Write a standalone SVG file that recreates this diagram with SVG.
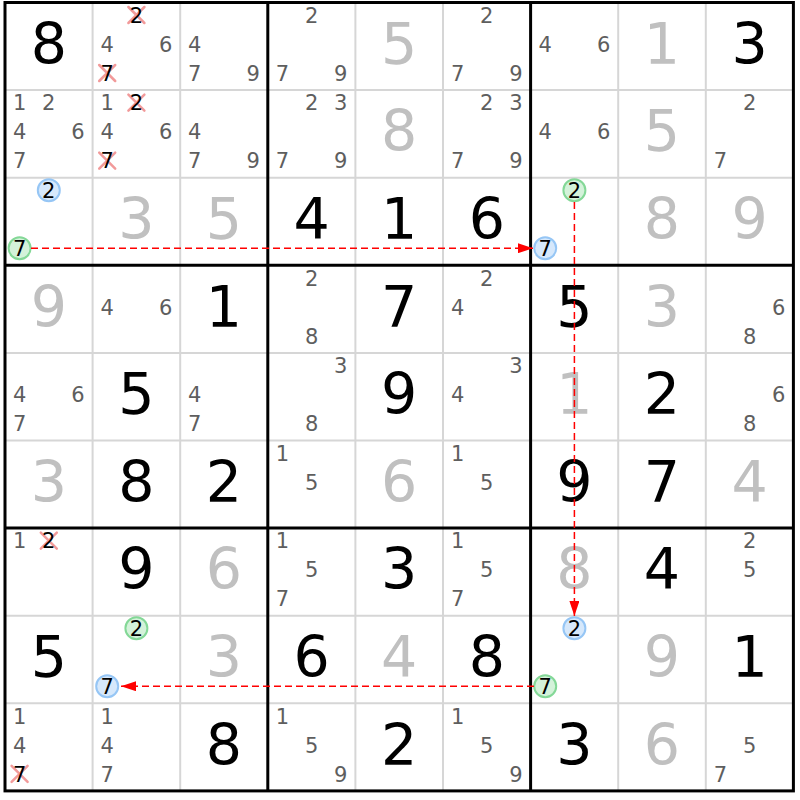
<svg xmlns="http://www.w3.org/2000/svg" width="800" height="800" viewBox="0 0 800 800">
<defs>
<style>
text{font-family:"DejaVu Sans",Verdana,sans-serif;text-anchor:middle}
.g{font-size:57px;fill:#000}
.s{font-size:57px;fill:#c0c0c0}
.c{font-size:21px;fill:#5e5e5e}
.k{font-size:21px;fill:#000}
.x{stroke:#f29a9a;stroke-width:2.5;stroke-linecap:round}
.cb{fill:#d6e8fb;stroke:#96c6f5;stroke-width:2}
.cg{fill:#d4f2da;stroke:#84d897;stroke-width:2}
.thin{stroke:#d6d6d6;stroke-width:2}
.thick{stroke:#000;stroke-width:3;fill:none}
.arr{stroke:#f00;stroke-width:1.5;stroke-dasharray:7 4;fill:none;marker-end:url(#ah)}
</style>
<marker id="ah" markerUnits="userSpaceOnUse" viewBox="0 0 15 10" markerWidth="15" markerHeight="10" refX="15" refY="5" orient="auto">
<path d="M0,0 L15,5 L0,10 z" fill="#f00"/>
</marker>
</defs>
<rect width="800" height="800" fill="#fff"/>
<g id="grid">
<g class="thin">
<line x1="92.6" y1="2.5" x2="92.6" y2="790.9"/>
<line x1="180.2" y1="2.5" x2="180.2" y2="790.9"/>
<line x1="355.4" y1="2.5" x2="355.4" y2="790.9"/>
<line x1="443" y1="2.5" x2="443" y2="790.9"/>
<line x1="618.2" y1="2.5" x2="618.2" y2="790.9"/>
<line x1="705.8" y1="2.5" x2="705.8" y2="790.9"/>
<line x1="5" y1="90.1" x2="793.4" y2="90.1"/>
<line x1="5" y1="177.7" x2="793.4" y2="177.7"/>
<line x1="5" y1="352.9" x2="793.4" y2="352.9"/>
<line x1="5" y1="440.5" x2="793.4" y2="440.5"/>
<line x1="5" y1="615.7" x2="793.4" y2="615.7"/>
<line x1="5" y1="703.3" x2="793.4" y2="703.3"/>
</g>
<g class="thick">
<rect x="5" y="2.5" width="788.4" height="788.4"/>
<line x1="267.8" y1="2.5" x2="267.8" y2="790.9"/>
<line x1="530.6" y1="2.5" x2="530.6" y2="790.9"/>
<line x1="5" y1="265.3" x2="793.4" y2="265.3"/>
<line x1="5" y1="528.1" x2="793.4" y2="528.1"/>
</g>
</g>

<!-- Row 1 -->
<g id="r1c1" transform="translate(5,2.5)"><text class="g" x="43.8" y="61.3">8</text></g>
<g id="r1c2" transform="translate(92.6,2.5)">
<path class="x" d="M35.8,4.5 L51.8,20.5 M51.8,4.5 L35.8,20.5 M6.6,62.5 L22.6,78.5 M22.6,62.5 L6.6,78.5"/>
<text class="k" x="43.8" y="20.3">2</text><text class="c" x="14.6" y="49.3">4</text><text class="c" x="73" y="49.3">6</text><text class="k" x="14.6" y="78.3">7</text></g>
<g id="r1c3" transform="translate(180.2,2.5)"><text class="c" x="14.6" y="49.3">4</text><text class="c" x="14.6" y="78.3">7</text><text class="c" x="73" y="78.3">9</text></g>
<g id="r1c4" transform="translate(267.8,2.5)"><text class="c" x="43.8" y="20.3">2</text><text class="c" x="14.6" y="78.3">7</text><text class="c" x="73" y="78.3">9</text></g>
<g id="r1c5" transform="translate(355.4,2.5)"><text class="s" x="43.8" y="61.3">5</text></g>
<g id="r1c6" transform="translate(443,2.5)"><text class="c" x="43.8" y="20.3">2</text><text class="c" x="14.6" y="78.3">7</text><text class="c" x="73" y="78.3">9</text></g>
<g id="r1c7" transform="translate(530.6,2.5)"><text class="c" x="14.6" y="49.3">4</text><text class="c" x="73" y="49.3">6</text></g>
<g id="r1c8" transform="translate(618.2,2.5)"><text class="s" x="43.8" y="61.3">1</text></g>
<g id="r1c9" transform="translate(705.8,2.5)"><text class="g" x="43.8" y="61.3">3</text></g>

<!-- Row 2 -->
<g id="r2c1" transform="translate(5,90.1)"><text class="c" x="14.6" y="20.3">1</text><text class="c" x="43.8" y="20.3">2</text><text class="c" x="14.6" y="49.3">4</text><text class="c" x="73" y="49.3">6</text><text class="c" x="14.6" y="78.3">7</text></g>
<g id="r2c2" transform="translate(92.6,90.1)">
<path class="x" d="M35.8,4.5 L51.8,20.5 M51.8,4.5 L35.8,20.5 M6.6,62.5 L22.6,78.5 M22.6,62.5 L6.6,78.5"/>
<text class="c" x="14.6" y="20.3">1</text><text class="k" x="43.8" y="20.3">2</text><text class="c" x="14.6" y="49.3">4</text><text class="c" x="73" y="49.3">6</text><text class="k" x="14.6" y="78.3">7</text></g>
<g id="r2c3" transform="translate(180.2,90.1)"><text class="c" x="14.6" y="49.3">4</text><text class="c" x="14.6" y="78.3">7</text><text class="c" x="73" y="78.3">9</text></g>
<g id="r2c4" transform="translate(267.8,90.1)"><text class="c" x="43.8" y="20.3">2</text><text class="c" x="73" y="20.3">3</text><text class="c" x="14.6" y="78.3">7</text><text class="c" x="73" y="78.3">9</text></g>
<g id="r2c5" transform="translate(355.4,90.1)"><text class="s" x="43.8" y="61.3">8</text></g>
<g id="r2c6" transform="translate(443,90.1)"><text class="c" x="43.8" y="20.3">2</text><text class="c" x="73" y="20.3">3</text><text class="c" x="14.6" y="78.3">7</text><text class="c" x="73" y="78.3">9</text></g>
<g id="r2c7" transform="translate(530.6,90.1)"><text class="c" x="14.6" y="49.3">4</text><text class="c" x="73" y="49.3">6</text></g>
<g id="r2c8" transform="translate(618.2,90.1)"><text class="s" x="43.8" y="61.3">5</text></g>
<g id="r2c9" transform="translate(705.8,90.1)"><text class="c" x="43.8" y="20.3">2</text><text class="c" x="14.6" y="78.3">7</text></g>

<!-- Row 3 -->
<g id="r3c1" transform="translate(5,177.7)"><circle class="cb" cx="43.8" cy="12.5" r="11"/><text class="k" x="43.8" y="20.3">2</text><circle class="cg" cx="14.6" cy="70.5" r="11"/><text class="k" x="14.6" y="78.3">7</text></g>
<g id="r3c2" transform="translate(92.6,177.7)"><text class="s" x="43.8" y="61.3">3</text></g>
<g id="r3c3" transform="translate(180.2,177.7)"><text class="s" x="43.8" y="61.3">5</text></g>
<g id="r3c4" transform="translate(267.8,177.7)"><text class="g" x="43.8" y="61.3">4</text></g>
<g id="r3c5" transform="translate(355.4,177.7)"><text class="g" x="43.8" y="61.3">1</text></g>
<g id="r3c6" transform="translate(443,177.7)"><text class="g" x="43.8" y="61.3">6</text></g>
<g id="r3c7" transform="translate(530.6,177.7)"><circle class="cg" cx="43.8" cy="12.5" r="11"/><text class="k" x="43.8" y="20.3">2</text><circle class="cb" cx="14.6" cy="70.5" r="11"/><text class="k" x="14.6" y="78.3">7</text></g>
<g id="r3c8" transform="translate(618.2,177.7)"><text class="s" x="43.8" y="61.3">8</text></g>
<g id="r3c9" transform="translate(705.8,177.7)"><text class="s" x="43.8" y="61.3">9</text></g>

<!-- Row 4 -->
<g id="r4c1" transform="translate(5,265.3)"><text class="s" x="43.8" y="61.3">9</text></g>
<g id="r4c2" transform="translate(92.6,265.3)"><text class="c" x="14.6" y="49.3">4</text><text class="c" x="73" y="49.3">6</text></g>
<g id="r4c3" transform="translate(180.2,265.3)"><text class="g" x="43.8" y="61.3">1</text></g>
<g id="r4c4" transform="translate(267.8,265.3)"><text class="c" x="43.8" y="20.3">2</text><text class="c" x="43.8" y="78.3">8</text></g>
<g id="r4c5" transform="translate(355.4,265.3)"><text class="g" x="43.8" y="61.3">7</text></g>
<g id="r4c6" transform="translate(443,265.3)"><text class="c" x="43.8" y="20.3">2</text><text class="c" x="14.6" y="49.3">4</text></g>
<g id="r4c7" transform="translate(530.6,265.3)"><text class="g" x="43.8" y="61.3">5</text></g>
<g id="r4c8" transform="translate(618.2,265.3)"><text class="s" x="43.8" y="61.3">3</text></g>
<g id="r4c9" transform="translate(705.8,265.3)"><text class="c" x="73" y="49.3">6</text><text class="c" x="43.8" y="78.3">8</text></g>

<!-- Row 5 -->
<g id="r5c1" transform="translate(5,352.9)"><text class="c" x="14.6" y="49.3">4</text><text class="c" x="73" y="49.3">6</text><text class="c" x="14.6" y="78.3">7</text></g>
<g id="r5c2" transform="translate(92.6,352.9)"><text class="g" x="43.8" y="61.3">5</text></g>
<g id="r5c3" transform="translate(180.2,352.9)"><text class="c" x="14.6" y="49.3">4</text><text class="c" x="14.6" y="78.3">7</text></g>
<g id="r5c4" transform="translate(267.8,352.9)"><text class="c" x="73" y="20.3">3</text><text class="c" x="43.8" y="78.3">8</text></g>
<g id="r5c5" transform="translate(355.4,352.9)"><text class="g" x="43.8" y="61.3">9</text></g>
<g id="r5c6" transform="translate(443,352.9)"><text class="c" x="73" y="20.3">3</text><text class="c" x="14.6" y="49.3">4</text></g>
<g id="r5c7" transform="translate(530.6,352.9)"><text class="s" x="43.8" y="61.3">1</text></g>
<g id="r5c8" transform="translate(618.2,352.9)"><text class="g" x="43.8" y="61.3">2</text></g>
<g id="r5c9" transform="translate(705.8,352.9)"><text class="c" x="73" y="49.3">6</text><text class="c" x="43.8" y="78.3">8</text></g>

<!-- Row 6 -->
<g id="r6c1" transform="translate(5,440.5)"><text class="s" x="43.8" y="61.3">3</text></g>
<g id="r6c2" transform="translate(92.6,440.5)"><text class="g" x="43.8" y="61.3">8</text></g>
<g id="r6c3" transform="translate(180.2,440.5)"><text class="g" x="43.8" y="61.3">2</text></g>
<g id="r6c4" transform="translate(267.8,440.5)"><text class="c" x="14.6" y="20.3">1</text><text class="c" x="43.8" y="49.3">5</text></g>
<g id="r6c5" transform="translate(355.4,440.5)"><text class="s" x="43.8" y="61.3">6</text></g>
<g id="r6c6" transform="translate(443,440.5)"><text class="c" x="14.6" y="20.3">1</text><text class="c" x="43.8" y="49.3">5</text></g>
<g id="r6c7" transform="translate(530.6,440.5)"><text class="g" x="43.8" y="61.3">9</text></g>
<g id="r6c8" transform="translate(618.2,440.5)"><text class="g" x="43.8" y="61.3">7</text></g>
<g id="r6c9" transform="translate(705.8,440.5)"><text class="s" x="43.8" y="61.3">4</text></g>

<!-- Row 7 -->
<g id="r7c1" transform="translate(5,528.1)"><path class="x" d="M35.8,4.5 L51.8,20.5 M51.8,4.5 L35.8,20.5"/><text class="c" x="14.6" y="20.3">1</text><text class="k" x="43.8" y="20.3">2</text></g>
<g id="r7c2" transform="translate(92.6,528.1)"><text class="g" x="43.8" y="61.3">9</text></g>
<g id="r7c3" transform="translate(180.2,528.1)"><text class="s" x="43.8" y="61.3">6</text></g>
<g id="r7c4" transform="translate(267.8,528.1)"><text class="c" x="14.6" y="20.3">1</text><text class="c" x="43.8" y="49.3">5</text><text class="c" x="14.6" y="78.3">7</text></g>
<g id="r7c5" transform="translate(355.4,528.1)"><text class="g" x="43.8" y="61.3">3</text></g>
<g id="r7c6" transform="translate(443,528.1)"><text class="c" x="14.6" y="20.3">1</text><text class="c" x="43.8" y="49.3">5</text><text class="c" x="14.6" y="78.3">7</text></g>
<g id="r7c7" transform="translate(530.6,528.1)"><text class="s" x="43.8" y="61.3">8</text></g>
<g id="r7c8" transform="translate(618.2,528.1)"><text class="g" x="43.8" y="61.3">4</text></g>
<g id="r7c9" transform="translate(705.8,528.1)"><text class="c" x="43.8" y="20.3">2</text><text class="c" x="43.8" y="49.3">5</text></g>

<!-- Row 8 -->
<g id="r8c1" transform="translate(5,615.7)"><text class="g" x="43.8" y="61.3">5</text></g>
<g id="r8c2" transform="translate(92.6,615.7)"><circle class="cg" cx="43.8" cy="12.5" r="11"/><text class="k" x="43.8" y="20.3">2</text><circle class="cb" cx="14.6" cy="70.5" r="11"/><text class="k" x="14.6" y="78.3">7</text></g>
<g id="r8c3" transform="translate(180.2,615.7)"><text class="s" x="43.8" y="61.3">3</text></g>
<g id="r8c4" transform="translate(267.8,615.7)"><text class="g" x="43.8" y="61.3">6</text></g>
<g id="r8c5" transform="translate(355.4,615.7)"><text class="s" x="43.8" y="61.3">4</text></g>
<g id="r8c6" transform="translate(443,615.7)"><text class="g" x="43.8" y="61.3">8</text></g>
<g id="r8c7" transform="translate(530.6,615.7)"><circle class="cb" cx="43.8" cy="12.5" r="11"/><text class="k" x="43.8" y="20.3">2</text><circle class="cg" cx="14.6" cy="70.5" r="11"/><text class="k" x="14.6" y="78.3">7</text></g>
<g id="r8c8" transform="translate(618.2,615.7)"><text class="s" x="43.8" y="61.3">9</text></g>
<g id="r8c9" transform="translate(705.8,615.7)"><text class="g" x="43.8" y="61.3">1</text></g>

<!-- Row 9 -->
<g id="r9c1" transform="translate(5,703.3)"><path class="x" d="M6.6,62.5 L22.6,78.5 M22.6,62.5 L6.6,78.5"/><text class="c" x="14.6" y="20.3">1</text><text class="c" x="14.6" y="49.3">4</text><text class="k" x="14.6" y="78.3">7</text></g>
<g id="r9c2" transform="translate(92.6,703.3)"><text class="c" x="14.6" y="20.3">1</text><text class="c" x="14.6" y="49.3">4</text><text class="c" x="14.6" y="78.3">7</text></g>
<g id="r9c3" transform="translate(180.2,703.3)"><text class="g" x="43.8" y="61.3">8</text></g>
<g id="r9c4" transform="translate(267.8,703.3)"><text class="c" x="14.6" y="20.3">1</text><text class="c" x="43.8" y="49.3">5</text><text class="c" x="73" y="78.3">9</text></g>
<g id="r9c5" transform="translate(355.4,703.3)"><text class="g" x="43.8" y="61.3">2</text></g>
<g id="r9c6" transform="translate(443,703.3)"><text class="c" x="14.6" y="20.3">1</text><text class="c" x="43.8" y="49.3">5</text><text class="c" x="73" y="78.3">9</text></g>
<g id="r9c7" transform="translate(530.6,703.3)"><text class="g" x="43.8" y="61.3">3</text></g>
<g id="r9c8" transform="translate(618.2,703.3)"><text class="s" x="43.8" y="61.3">6</text></g>
<g id="r9c9" transform="translate(705.8,703.3)"><text class="c" x="43.8" y="49.3">5</text><text class="c" x="14.6" y="78.3">7</text></g>

<g id="connectors">
<line class="arr" x1="31" y1="248.2" x2="533" y2="248.2"/>
<line class="arr" x1="574.4" y1="202" x2="574.4" y2="616"/>
<line class="arr" x1="534" y1="686.2" x2="121" y2="686.2"/>
</g>
</svg>
